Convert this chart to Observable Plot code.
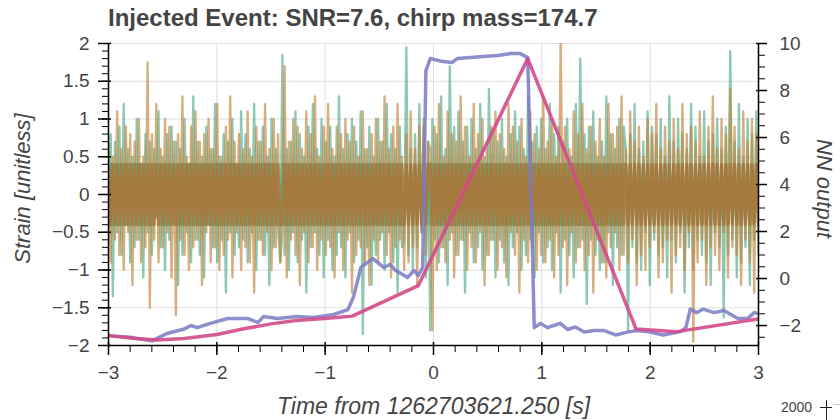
<!DOCTYPE html>
<html>
<head>
<meta charset="utf-8">
<script src="https://cdn.jsdelivr.net/npm/d3@7"></script>
<script src="https://cdn.jsdelivr.net/npm/@observablehq/plot@0.6"></script>
<style>
  html, body { margin: 0; padding: 0; background: white; }
  #wrap { position: relative; width: 840px; height: 420px; font-family: "Liberation Sans", Arial, sans-serif; }
  #title { position: absolute; left: 108px; top: 6px; font-size: 24px; font-weight: bold; color: #444; line-height: 1; white-space: nowrap; }
  #stray { position: absolute; left: 781px; top: 400px; font-size: 14px; color: #444; line-height: 1; }
  #crossV { position: absolute; left: 826px; top: 400px; width: 1px; height: 20px; background: #222; }
  #crossH { position: absolute; left: 820px; top: 407px; width: 12px; height: 1px; background: #222; }
  #edge { position: absolute; left: 834px; top: 404px; width: 6px; height: 1px; background: #ccc; }
</style>
</head>
<body>
<div id="wrap">
  <div id="chart"></div>
  <div id="title"></div>
  <div id="stray"></div>
  <div id="crossV"></div><div id="crossH"></div><div id="edge"></div>
</div>
<script>
// ---- text ----
const titleText = "Injected Event: SNR=7.6, chirp mass=174.7";
const xLabel = "Time from 1262703621.250 [s]";
const yLabelLeft = "Strain [unitless]";
const yLabelRight = "NN output";
const strayLabel = "2000";

// ---- axes ----
const timeDomain = [-3, 3];
const strainDomain = [-2, 2];
const nnDomain = [-2.85, 10];
const xTicks = [-3, -2, -1, 0, 1, 2, 3];
const strainTicks = [-2, -1.5, -1, -0.5, 0, 0.5, 1, 1.5, 2];
const nnTicks = [-2, 0, 2, 4, 6, 8, 10];
const denseCore = 0.4; // extent of the visually solid band of overlapping samples

// ---- strain samples (uniform in time from -3 s to 3 s) ----
const tealStrain = [
-0.6,0.8,-1.35,0.7,-0.5,0.9,-0.8,1.2,-0.4,0.6,-0.9,0.5,-0.7,1.0,-0.6,0.4,-1.1,0.8,-0.5,0.7,
-0.8,0.6,-0.3,1.1,-0.7,0.5,-1.0,0.8,-0.6,0.9,-0.4,0.7,-1.2,0.6,-0.8,1.0,-0.5,0.4,-0.9,1.3,
-0.6,0.7,-0.8,0.5,-1.1,0.9,-0.4,0.6,-0.7,1.2,-0.9,0.5,-0.6,0.8,-1.3,0.7,-0.5,1.0,-0.8,0.4,
-0.7,1.1,-0.6,0.8,-0.9,0.6,-0.5,1.2,-1.0,0.7,-0.6,0.9,-0.8,0.5,-1.2,1.0,-0.7,0.6,-0.4,-0.9,
1.85,-0.8,0.6,-1.0,0.7,-0.5,1.1,-0.9,0.8,-0.6,0.5,-1.3,0.9,-0.7,1.2,-0.5,0.6,-0.8,1.0,-1.1,
0.7,-0.6,0.9,-1.0,0.5,-0.8,1.3,-0.7,0.6,-1.1,0.8,-0.5,1.0,-0.9,0.7,-0.6,1.1,-1.85,0.6,-0.7,
0.9,-1.2,0.5,-0.8,1.0,-0.6,0.7,-1.0,1.2,-0.5,0.8,-0.9,0.6,-1.3,0.9,-0.7,-0.6,1.95,-0.8,0.6,
-1.0,0.8,-0.7,1.2,-0.5,0.9,-1.1,0.7,-1.8,1.0,-0.6,0.8,-0.9,1.3,-0.7,0.6,-1.2,1.7,-0.5,0.9,
-0.8,1.1,-0.6,0.7,-1.3,0.9,-0.5,1.0,-0.9,0.6,-0.7,1.2,-1.0,0.5,-0.8,1.4,-0.6,0.8,-1.1,0.7,
-0.6,1.0,-0.9,0.5,-1.2,0.8,-0.7,1.1,-0.5,0.9,-1.0,0.6,-0.8,1.3,-0.6,0.7,-1.1,0.9,-0.5,1.0,
-0.9,0.6,-0.7,1.2,-1.0,0.8,-0.5,0.9,-1.3,0.7,-0.6,1.0,-0.8,0.5,-1.1,1.2,-0.7,1.8,-0.6,0.8,
-1.45,0.9,-0.6,1.1,-0.8,0.5,-1.0,0.7,-0.9,1.3,-0.5,0.8,-1.2,0.6,-0.7,1.0,-0.8,0.9,0.6,-1.8,
0.8,-0.7,1.2,-0.9,0.6,-1.0,0.7,-0.5,1.1,-1.2,0.9,-0.6,0.8,-0.8,1.0,-0.7,0.5,-1.1,1.3,-0.6,
0.7,-0.9,1.0,-0.5,0.8,-1.3,0.6,-0.7,1.2,-1.0,0.9,-0.6,0.5,-0.8,1.1,-0.9,0.7,-1.2,0.8,-0.5,
1.0,-0.7,0.6,-1.63,0.9,-0.8,1.9,-0.6,0.7,-1.1,1.2,-0.9,0.5,-0.7,1.0,-1.2,0.8,-0.6,1.1,-0.8
];
const orangeStrain = [
0.7,-0.9,0.5,-0.6,1.1,-0.8,0.6,-1.0,0.9,-0.5,0.8,-1.2,0.7,-0.6,1.0,-0.9,0.5,-0.7,1.75,-1.5,
0.8,-0.6,1.2,-0.9,0.6,-0.7,1.0,-0.5,0.9,-1.1,0.7,-1.6,0.8,-0.6,1.3,-0.8,0.5,-1.0,0.9,-0.7,
1.1,-0.6,0.7,-1.2,0.8,-0.5,1.0,-0.9,0.6,-0.7,1.2,-1.0,0.5,-0.8,0.9,-0.6,1.3,-1.1,0.7,-0.5,
0.8,-1.0,0.6,-0.7,1.1,-0.9,0.5,-1.3,0.9,-0.6,0.7,-0.8,1.2,-0.5,0.6,-1.0,1.0,-0.7,0.8,-0.9,
-0.5,1.7,-1.1,0.7,-0.6,1.0,-0.8,0.9,-1.2,0.6,-0.5,1.1,-0.9,0.8,-0.7,1.3,-1.0,0.5,-0.6,0.9,
-0.8,1.2,-0.7,0.6,-1.1,0.9,-0.5,0.8,-1.0,1.0,-0.6,0.7,-1.3,0.9,-0.8,0.5,-0.7,1.1,-0.9,0.6,
-1.2,0.8,-0.6,1.0,-0.9,0.7,-0.5,1.3,-0.8,0.6,-1.1,0.9,-0.7,1.2,-0.6,0.5,-1.0,0.8,-0.9,1.1,
-0.7,0.6,-1.2,0.9,-0.5,1.0,-0.8,0.7,0.6,-1.8,0.9,-1.0,1.2,-0.7,0.5,-0.9,1.1,-0.6,0.8,-1.1,
0.7,-0.8,1.3,-0.6,0.9,-1.0,0.5,-0.7,1.2,-0.9,0.8,-0.5,1.0,-1.2,0.6,-0.8,0.9,-0.6,1.1,-1.0,
0.8,-0.7,0.6,-1.1,1.2,-0.5,0.9,-0.8,0.7,-1.3,1.0,-0.6,0.5,-0.9,1.1,-0.7,0.8,-1.0,0.6,-0.8,
1.3,-0.9,0.7,-0.6,1.0,-1.1,0.5,-0.8,2.1,-0.7,0.9,-1.2,0.6,-0.5,1.1,-0.9,0.8,-0.7,1.2,-1.0,
0.6,-0.8,0.9,-1.3,0.7,-0.6,1.0,-0.9,0.5,-1.1,1.2,-0.7,0.8,-0.5,0.9,-1.0,1.3,-0.8,0.6,-0.9,
1.1,-0.6,0.7,-1.2,0.9,-0.8,0.5,-1.0,1.0,-0.7,0.8,-0.5,1.2,-1.1,0.6,-0.9,0.9,-0.6,0.7,-1.3,
1.0,-0.8,0.6,-0.7,1.2,-1.0,0.8,-0.5,0.9,-1.95,0.7,-0.9,1.1,-0.6,0.5,-1.2,0.9,-0.7,1.3,-0.8,
0.6,-1.0,1.0,-0.5,0.8,-1.1,1.4,-0.7,0.9,-0.8,0.6,-1.2,1.1,-0.6,0.7,-0.9,1.0,-1.3,0.8,-0.5
];

// ---- NN outputs (right axis) ----
const purpleTime = [-3.0,-2.8,-2.6,-2.46,-2.3,-2.24,-2.18,-2.06,-1.9,-1.72,-1.62,-1.57,-1.44,-1.26,-1.11,-0.92,-0.79,-0.74,-0.67,-0.56,-0.46,-0.40,-0.35,-0.30,-0.24,-0.18,-0.14,-0.10,-0.07,-0.03,0.09,0.17,0.22,0.34,0.46,0.59,0.71,0.80,0.87,0.93,0.99,1.05,1.11,1.17,1.24,1.31,1.39,1.48,1.57,1.68,1.79,1.88,2.0,2.12,2.28,2.33,2.37,2.43,2.49,2.59,2.68,2.81,2.90,2.96,3.0];
const purpleNN = [-2.43,-2.5,-2.65,-2.34,-2.15,-2.0,-2.09,-1.91,-1.70,-1.70,-1.87,-1.62,-1.70,-1.62,-1.66,-1.53,-1.32,-0.81,0.47,0.85,0.47,0.60,0.34,0.21,0.04,0.34,0.13,0.47,8.85,9.36,9.23,9.19,9.36,9.40,9.45,9.49,9.57,9.57,9.40,-2.09,-1.91,-2.09,-2.0,-1.91,-2.17,-2.06,-2.28,-2.21,-2.21,-2.40,-2.28,-2.21,-2.28,-2.40,-2.26,-2.09,-1.30,-1.45,-1.30,-1.45,-1.36,-1.70,-1.70,-1.45,-1.49];
const pinkTime = [-3.0,-2.75,-2.55,-2.3,-2.0,-1.75,-1.5,-1.25,-1.0,-0.75,-0.14,0.87,1.87,2.25,3.0];
const pinkNN = [-2.43,-2.55,-2.62,-2.55,-2.38,-2.14,-1.93,-1.78,-1.70,-1.60,-0.30,9.36,-2.15,-2.26,-1.72];

// ---- build ----
const nn2s = d3.scaleLinear().domain(nnDomain).range(strainDomain);
const dt = (timeDomain[1] - timeDomain[0]) / (tealStrain.length - 1);
const tealData = tealStrain.map((v, i) => ({t: timeDomain[0] + i * dt, v}));
const orangeData = orangeStrain.map((v, i) => ({t: timeDomain[0] + i * dt, v}));
const purpleData = purpleTime.map((t, i) => ({t, v: nn2s(purpleNN[i])}));
const pinkData = pinkTime.map((t, i) => ({t, v: nn2s(pinkNN[i])}));
const coreY = d => Math.max(-denseCore, Math.min(denseCore, d.v));

const range = (a, b, s) => d3.range(Math.round((b - a) / s) + 1).map(k => +(a + k * s).toFixed(4));
const xMinor = range(-3, 3, 0.2);
const yMinor = range(-2, 2, 0.1);
const nnMinor = range(-2.5, 10, 0.5).map(v => nn2s(v));
const fmtNum = v => (v < 0 ? "\u2212" : "") + String(+Math.abs(v).toFixed(2));
const fmtNN = v => fmtNum(Math.round(nn2s.invert(v)));
const blank = () => "";

const teal = "#3fa47f", orange = "#a8763a";

const chart = Plot.plot({
  width: 840, height: 420,
  marginTop: 43, marginBottom: 75, marginLeft: 108, marginRight: 82,
  x: {domain: timeDomain},
  y: {domain: strainDomain},
  style: {fontFamily: "'Liberation Sans', Arial, sans-serif", fontSize: "19px", color: "#444", background: "white"},
  marks: [
    Plot.gridX(xTicks, {stroke: "#e0e0e0", strokeOpacity: 1}),
    Plot.gridY(strainTicks, {stroke: "#e0e0e0", strokeOpacity: 1}),
    Plot.line(tealData, {x: "t", y: "v", stroke: teal, strokeOpacity: 0.6, strokeWidth: 2.3, clip: true}),
    Plot.line(tealData, {x: "t", y: coreY, stroke: teal, strokeOpacity: 0.75, strokeWidth: 3, clip: true}),
    Plot.line(orangeData, {x: "t", y: "v", stroke: "#c0823c", strokeOpacity: 0.65, strokeWidth: 2.3, clip: true}),
    Plot.line(orangeData, {x: "t", y: coreY, stroke: orange, strokeOpacity: 0.85, strokeWidth: 3, clip: true}),
    Plot.line(purpleData, {x: "t", y: "v", stroke: "#7a7ac4", strokeOpacity: 0.85, strokeWidth: 3.5, clip: true}),
    Plot.line(pinkData, {x: "t", y: "v", stroke: "#d44a88", strokeOpacity: 0.9, strokeWidth: 3.5, clip: true}),
    // axis lines
    Plot.ruleX([timeDomain[0]], {stroke: "black", strokeWidth: 1.5}),
    Plot.ruleX([timeDomain[1]], {stroke: "black", strokeWidth: 1.5}),
    Plot.ruleY([strainDomain[0]], {stroke: "black", strokeWidth: 1.5}),
    // bottom axis
    Plot.axisX(xMinor, {anchor: "bottom", tickSize: 7, tickFormat: blank, stroke: "black", label: null}),
    Plot.axisX(xTicks, {anchor: "bottom", tickSize: 10, tickPadding: 10, tickFormat: fmtNum, stroke: "black", strokeWidth: 1.5, label: null, fill: "#444"}),
    Plot.axisX(xTicks, {anchor: "bottom", tickSize: -3, tickFormat: blank, stroke: "black", strokeWidth: 1.5, label: null}),
    // left axis
    Plot.axisY(yMinor, {anchor: "left", tickSize: 6, tickFormat: blank, stroke: "black", label: null}),
    Plot.axisY(strainTicks, {anchor: "left", tickSize: 10, tickPadding: 9, tickFormat: fmtNum, stroke: "black", strokeWidth: 1.5, label: null, fill: "#444"}),
    Plot.axisY(strainTicks, {anchor: "left", tickSize: -3, tickFormat: blank, stroke: "black", strokeWidth: 1.5, label: null}),
    // right axis
    Plot.axisY(nnMinor, {anchor: "right", tickSize: 6, tickFormat: blank, stroke: "black", label: null}),
    Plot.axisY(nnTicks.map(v => nn2s(v)), {anchor: "right", tickSize: 8, tickPadding: 13, tickFormat: fmtNN, stroke: "black", strokeWidth: 1.5, label: null, fill: "#444"}),
    Plot.axisY(nnTicks.map(v => nn2s(v)), {anchor: "right", tickSize: -3, tickFormat: blank, stroke: "black", strokeWidth: 1.5, label: null}),
    // axis titles
    Plot.text([yLabelLeft], {frameAnchor: "left", dx: -86, dy: -6, rotate: -90, text: d => d, textAnchor: "middle", lineAnchor: "middle", fontSize: 22, fontStyle: "italic", fill: "#444"}),
    Plot.text([yLabelRight], {frameAnchor: "right", dx: 66, dy: -6, rotate: 90, text: d => d, textAnchor: "middle", lineAnchor: "middle", fontSize: 22, fontStyle: "italic", fill: "#444"}),
    Plot.text([xLabel], {frameAnchor: "bottom", dy: 61, text: d => d, textAnchor: "middle", lineAnchor: "middle", fontSize: 23, fontStyle: "italic", fill: "#444"})
  ]
});
document.getElementById("chart").appendChild(chart);
document.getElementById("title").textContent = titleText;
document.getElementById("stray").textContent = strayLabel;
</script>
</body>
</html>
